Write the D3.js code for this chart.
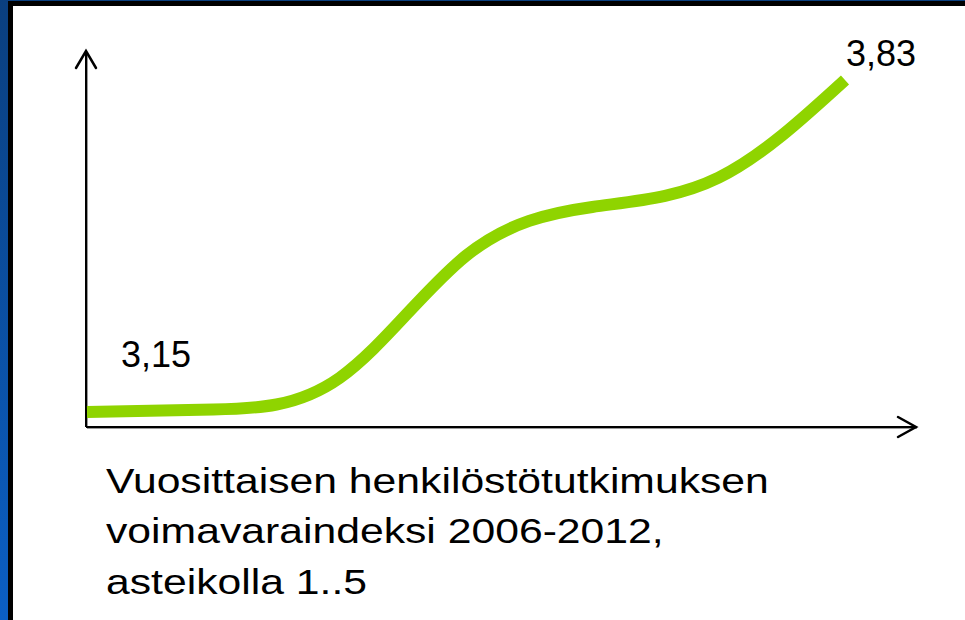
<!DOCTYPE html>
<html>
<head>
<meta charset="utf-8">
<script src="https://cdn.jsdelivr.net/npm/d3@7"></script>
<style>
html,body{margin:0;padding:0;background:#0a4a8f;}
svg{display:block;}
text{font-family:"Liberation Sans",Arial,sans-serif;fill:#000;}
</style>
</head>
<body>
<svg id="chart" width="965" height="620"></svg>
<script>
// Data
const years = [2006, 2007, 2008, 2009, 2010, 2011, 2012];
const indexValues = [3.15, 3.155, 3.22, 3.47, 3.57, 3.63, 3.83];
const valueLabels = ["3,15", "3,83"];
const captionLines = [
  "Vuosittaisen henkilöstötutkimuksen",
  "voimavaraindeksi 2006-2012,",
  "asteikolla 1..5"
];

const svg = d3.select("#chart");

// Background frame
const defs = svg.append("defs");
const grad = defs.append("linearGradient").attr("id","bg").attr("x1",0).attr("y1",0).attr("x2",0).attr("y2",1);
grad.append("stop").attr("offset","0%").attr("stop-color","#0a3f7f");
grad.append("stop").attr("offset","100%").attr("stop-color","#0b5fc4");
svg.append("rect").attr("x",0).attr("y",0).attr("width",965).attr("height",620).attr("fill","url(#bg)");
svg.append("rect").attr("x",8).attr("y",1).attr("width",970).attr("height",630).attr("fill","#000");
svg.append("rect").attr("x",13).attr("y",6).attr("width",960).attr("height",620).attr("fill","#fff");

// Scales
const x = d3.scaleLinear().domain([years[0], years[years.length-1]]).range([87, 845]);
const y = d3.scaleLinear().domain([indexValues[0], indexValues[indexValues.length-1]]).range([412, 80]);

// Axes (arrows)
const axisX0 = 86, axisY0 = 427;
function arrowAxis(pts, head) {
  svg.append("path").attr("d", d3.line()(pts.map(p=>[p[0]+1,p[1]+1])))
    .attr("fill","none").attr("stroke","#999").attr("stroke-width",2);
  svg.append("path").attr("d", d3.line()(pts)).attr("fill","none").attr("stroke","#000").attr("stroke-width",2);
  svg.append("path").attr("d", d3.line()(head)).attr("fill","none").attr("stroke","#000")
    .attr("stroke-width",2.5).attr("stroke-linecap","round").attr("stroke-linejoin","miter");
}
arrowAxis([[axisX0,51],[axisX0,axisY0]], [[76,68],[axisX0,51],[96,68]]);
arrowAxis([[axisX0,axisY0],[916,axisY0]], [[898,417],[916,axisY0],[898,437]]);

// Line
const line = d3.line()
  .x((d,i)=>x(years[i]))
  .y(d=>y(d))
  .curve(d3.curveNatural);
svg.append("path")
  .datum(indexValues)
  .attr("d", line)
  .attr("fill","none")
  .attr("stroke","#8fd400")
  .attr("stroke-width",12)
  .attr("stroke-linecap","butt");

// Value labels
svg.append("text").attr("x",121).attr("y",367).attr("font-size",36).text(valueLabels[0]);
svg.append("text").attr("x",846).attr("y",66).attr("font-size",36).text(valueLabels[1]);

// Caption (horizontally stretched like the reference slide)
const capX = 106, capSx = 1.22;
svg.append("g").attr("transform",`translate(${capX},0) scale(${capSx},1)`)
  .selectAll("text").data(captionLines).enter().append("text")
  .attr("x",0)
  .attr("y",(d,i)=>493 + i*50.5)
  .attr("font-size",35)
  .text(d=>d);
</script>
</body>
</html>
